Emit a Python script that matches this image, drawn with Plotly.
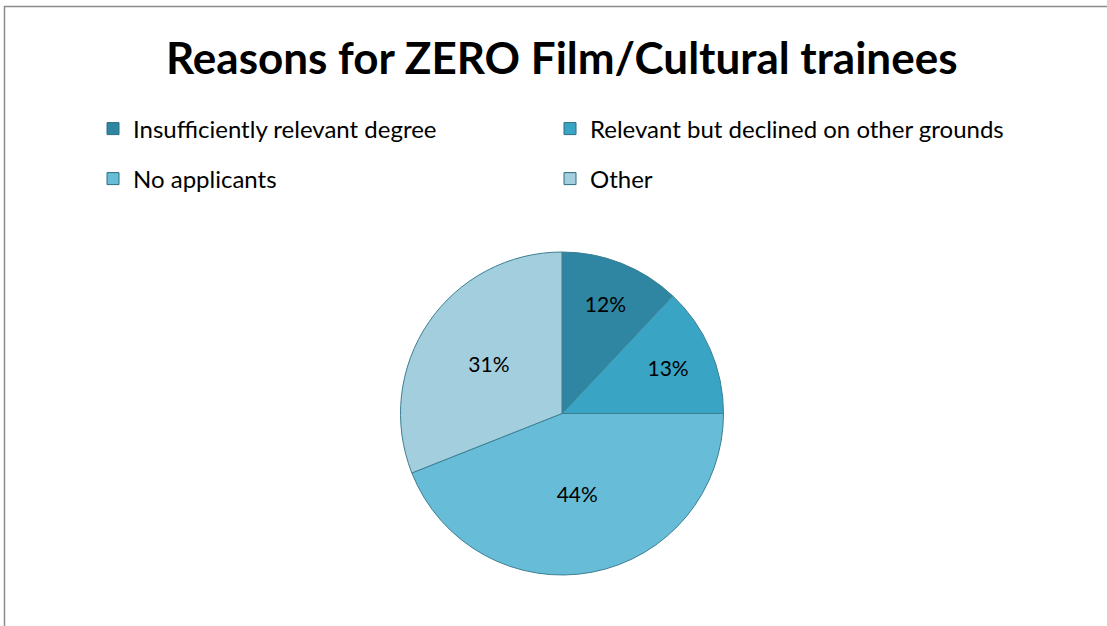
import plotly.graph_objects as go

W, H = 1107, 626
labels = ["Insufficiently relevant degree", "Relevant but declined on other grounds", "No applicants", "Other"]
values = [12, 13, 44, 31]
colors = ["#2E86A2", "#3AA4C5", "#67BCD7", "#A3CEDE"]
title = "Reasons for ZERO Film/Cultural trainees"
FONT = "Lato, Open Sans, sans-serif"

fig = go.Figure()
fig.add_trace(go.Pie(
    labels=labels, values=values, sort=False, direction="clockwise", rotation=0,
    marker=dict(colors=colors, line=dict(color="#3C7F93", width=1)),
    textinfo="percent", textposition="inside", insidetextorientation="horizontal",
    textfont=dict(family=FONT, size=21, color="black"),
    domain=dict(x=[400/W, 724/W], y=[1-575/H, 1-252/H]),
    showlegend=False, hoverinfo="label+percent",
))

# legend entries (two rows, two columns) built from the same labels/colors
for i, (lab, col) in enumerate(zip(labels, colors)):
    fig.add_trace(go.Scatter(
        x=[None], y=[None], mode="markers", name=lab,
        marker=dict(symbol="square", size=12, color=col, line=dict(color="#2C6E80", width=1)),
        legend="legend" if i < 2 else "legend2", showlegend=True,
    ))

fig.add_shape(type="rect", xref="paper", yref="paper",
              x0=4.5/W, x1=1.05, y0=-0.05, y1=1-6.5/H,
              line=dict(color="#8C8C8C", width=1.5), fillcolor="rgba(0,0,0,0)")

fig.add_annotation(text="<b>" + title + "</b>", xref="paper", yref="paper",
                   x=562/W, y=1-57/H, showarrow=False, xanchor="center", yanchor="middle",
                   font=dict(family=FONT, size=44, color="black"))

leg_common = dict(orientation="h", xanchor="left", yanchor="middle",
                  entrywidth=412, entrywidthmode="pixels", traceorder="normal",
                  font=dict(family=FONT, size=24, color="black"),
                  bgcolor="rgba(0,0,0,0)", itemclick=False, itemdoubleclick=False)

fig.update_layout(
    width=W, height=H, margin=dict(l=0, r=0, t=0, b=0),
    paper_bgcolor="white", plot_bgcolor="white",
    xaxis=dict(visible=False), yaxis=dict(visible=False),
    legend=dict(x=93/W, y=1-129/H, **leg_common),
    legend2=dict(x=93/W, y=1-179/H, **leg_common),
)
fig.write_html("out.html", config={"displayModeBar": False},
               post_script="document.body.style.margin='0';")
